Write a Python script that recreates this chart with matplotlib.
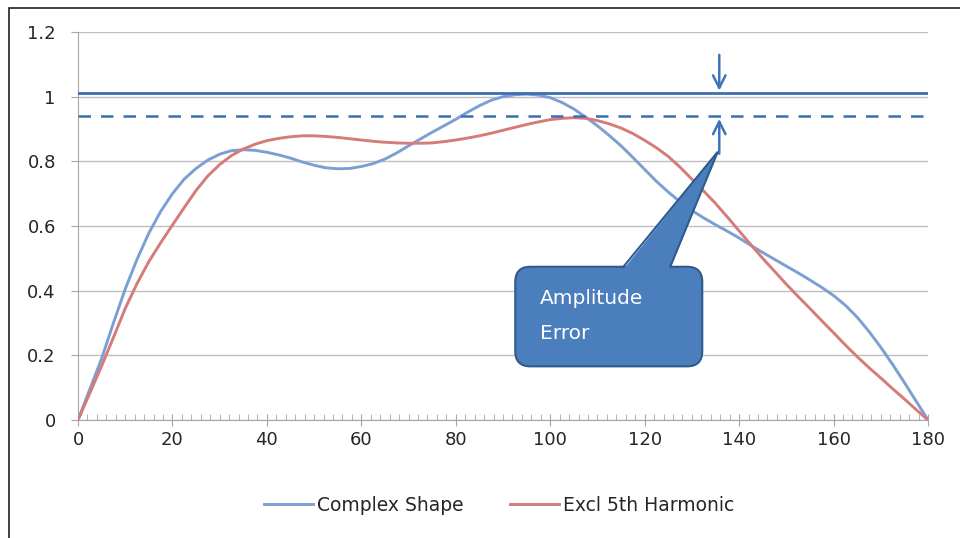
import matplotlib
matplotlib.use("Agg")
import matplotlib.pyplot as plt
from matplotlib.patches import FancyBboxPatch, Polygon, Rectangle
from matplotlib.ticker import MultipleLocator

plt.rcParams['font.family'] = ['DejaVu Sans']

# angle, degrees (read every 2.5 deg off the original chart)
angle = [i * 2.5 for i in range(73)]
complex_shape = [0, 0.095, 0.19, 0.30, 0.405, 0.497, 0.578, 0.645, 0.70, 0.745,
                 0.778, 0.804, 0.822, 0.833, 0.836, 0.834, 0.828, 0.82, 0.81, 0.798,
                 0.788, 0.78, 0.777, 0.778, 0.784, 0.793, 0.807, 0.826, 0.848, 0.869,
                 0.89, 0.91, 0.93, 0.952, 0.972, 0.989, 1.0, 1.006, 1.008, 1.005,
                 0.997, 0.982, 0.962, 0.937, 0.91, 0.88, 0.848, 0.812, 0.775, 0.738,
                 0.705, 0.675, 0.648, 0.625, 0.604, 0.584, 0.563, 0.54, 0.518, 0.497,
                 0.476, 0.455, 0.433, 0.41, 0.385, 0.355, 0.318, 0.274, 0.225, 0.172,
                 0.116, 0.058, 0]
excl_5th = [0, 0.083, 0.167, 0.255, 0.345, 0.422, 0.49, 0.548, 0.603, 0.657,
            0.71, 0.755, 0.79, 0.818, 0.838, 0.853, 0.864, 0.871, 0.876, 0.879,
            0.879, 0.877, 0.874, 0.87, 0.866, 0.862, 0.859, 0.857, 0.856, 0.856,
            0.857, 0.861, 0.866, 0.872, 0.879, 0.887, 0.896, 0.905, 0.914, 0.922,
            0.929, 0.933, 0.935, 0.933, 0.926, 0.916, 0.903, 0.886, 0.865, 0.842,
            0.815, 0.782, 0.745, 0.708, 0.67, 0.628, 0.585, 0.542, 0.50, 0.46,
            0.42, 0.382, 0.345, 0.307, 0.27, 0.232, 0.196, 0.162, 0.13, 0.097,
            0.065, 0.032, 0]

peak_level = 1.01      # solid line
reduced_level = 0.94   # dashed line
arrow_x = 135.8

fig = plt.figure(figsize=(9.6, 5.38), dpi=100)
ax = fig.add_axes([0.08125, 0.2193, 0.8854, 0.7212])

# outer frame (only top + left fall inside the picture)
fig.patches.append(Rectangle((9 / 960, -0.1), 1.2, 1 - 8 / 538 + 0.1,
                             transform=fig.transFigure, fill=False,
                             edgecolor='#202020', lw=1.2))

ax.plot(angle, complex_shape, color='#7c9fd3', lw=2.1, label='Complex Shape', zorder=3)
ax.plot(angle, excl_5th, color='#d57b79', lw=2.1, label='Excl 5th Harmonic', zorder=3)

ax.axhline(peak_level, color='#3b6fb2', lw=2.0, zorder=4)
ax.axhline(reduced_level, color='#3b6fb2', lw=1.8, ls=(0, (5, 4)), zorder=4)

arrow_kw = dict(arrowstyle='->,head_length=0.9,head_width=0.45', color='#3d74b7', lw=1.8)
ax.annotate('', xy=(arrow_x, peak_level), xytext=(arrow_x, 1.138), arrowprops=arrow_kw, zorder=6)
ax.annotate('', xy=(arrow_x, reduced_level), xytext=(arrow_x, 0.815), arrowprops=arrow_kw, zorder=6)

# callout
fill_c = '#4a7ebd'
edge_c = '#2f5a8e'
box = FancyBboxPatch((92.6, 0.166), 39.6, 0.308,
                     boxstyle='round,pad=0,rounding_size=3.2',
                     mutation_aspect=4.72 / 323,
                     facecolor=fill_c, edgecolor=edge_c, lw=1.5, zorder=5)
ax.add_patch(box)
wedge = [(115.5, 0.466), (135.5, 0.83), (125.4, 0.466)]
ax.add_patch(Polygon(wedge, closed=True, facecolor=fill_c, edgecolor='none', zorder=6))
ax.plot([115.5, 135.5, 125.4], [0.474, 0.83, 0.474], color=edge_c, lw=1.5, zorder=6,
        solid_joinstyle='miter')
ax.text(97.9, 0.376, 'Amplitude', color='white', fontsize=14.5, va='center', ha='left', zorder=7)
ax.text(97.9, 0.268, 'Error', color='white', fontsize=14.5, va='center', ha='left', zorder=7)

ax.set_xlim(0, 180)
ax.set_ylim(0, 1.2)
ax.xaxis.set_major_locator(MultipleLocator(20))
ax.xaxis.set_minor_locator(MultipleLocator(2))
ax.set_yticks([0, 0.2, 0.4, 0.6, 0.8, 1.0, 1.2])
ax.set_yticklabels(['0', '0.2', '0.4', '0.6', '0.8', '1', '1.2'])

ax.grid(axis='y', color='#bfbfbf', lw=1.0)
ax.set_axisbelow(True)
for s in ['top', 'right']:
    ax.spines[s].set_visible(False)
for s in ['left', 'bottom']:
    ax.spines[s].set_color('#a6a6a6')
ax.tick_params(axis='x', which='major', direction='inout', length=8, color='#a6a6a6',
               labelsize=13, labelcolor='#262626', pad=4)
ax.tick_params(axis='x', which='minor', direction='in', length=4, color='#a6a6a6')
ax.tick_params(axis='y', which='major', direction='out', length=5, color='#a6a6a6',
               labelsize=13, labelcolor='#262626', pad=11)

fig.legend(loc='center', bbox_to_anchor=(0.52, 0.061), ncol=2, frameon=False,
           fontsize=13.5, handlelength=2.6, columnspacing=2.5, handletextpad=0.2,
           labelcolor='#262626')

fig.savefig('out.png', dpi=100)
